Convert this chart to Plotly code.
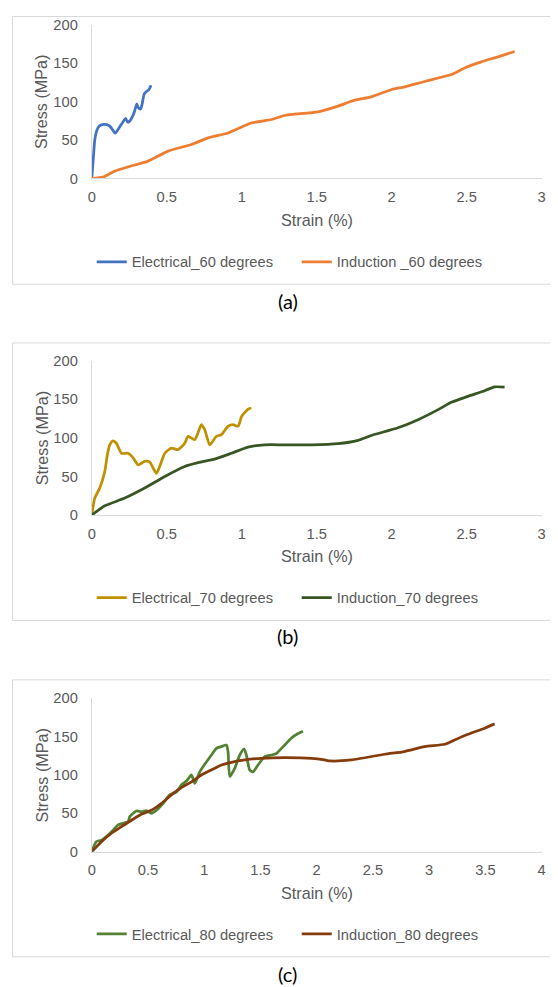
import plotly.graph_objects as go

# ---------------- data ----------------
# Panel (a)
elec60_strain = [0, 0.01, 0.02, 0.035, 0.05, 0.07, 0.1, 0.12, 0.14, 0.155, 0.17, 0.19, 0.21, 0.225,
                 0.24, 0.255, 0.27, 0.285, 0.3, 0.31, 0.325, 0.335, 0.35, 0.365, 0.38, 0.395]
elec60_stress = [0, 25, 50, 63, 68, 70, 70, 68, 63, 59, 62, 68, 74, 78,
                 73, 75, 80, 87, 97, 92, 90, 96, 110, 113, 115, 121]
ind60_strain = [0, 0.075, 0.153, 0.242, 0.375, 0.509, 0.664, 0.775, 0.909, 1.064, 1.198, 1.286,
                1.509, 1.642, 1.753, 1.864, 2.0, 2.087, 2.22, 2.398, 2.487, 2.598, 2.709, 2.82]
ind60_stress = [0, 1.7, 9.5, 15, 22.5, 35.5, 44, 52.7, 59, 72, 76.6, 81.8,
                86.5, 94, 101.7, 106, 115.6, 119, 126, 135, 143.6, 151.5, 158, 165]

# Panel (b)
elec70_strain = [0, 0.02, 0.053, 0.087, 0.104, 0.12, 0.142, 0.164, 0.198, 0.242, 0.276, 0.309,
                 0.353, 0.387, 0.409, 0.431, 0.453, 0.487, 0.531, 0.575, 0.62, 0.642, 0.687,
                 0.731, 0.753, 0.787, 0.831, 0.864, 0.909, 0.942, 0.976, 1.0, 1.042, 1.064]
elec70_stress = [0, 22, 35, 56.6, 78, 91, 96, 93, 80, 80, 74, 65,
                 69.5, 68.7, 61, 54, 63, 80, 86.8, 84.7, 93, 102, 97.7,
                 117, 110.6, 91, 102, 104, 115, 117, 115, 128, 137, 138.6]
ind70_strain = [0, 0.087, 0.22, 0.353, 0.487, 0.62, 0.709, 0.82, 0.931, 1.042, 1.153, 1.287,
                1.464, 1.642, 1.776, 1.864, 2.042, 2.176, 2.31, 2.398, 2.509, 2.62, 2.687, 2.753]
ind70_stress = [0, 12, 22, 35, 50, 63, 68, 72.5, 80, 88, 91, 91,
                91, 92.5, 96.8, 103, 113, 123.5, 136.5, 146, 153.7, 161, 166, 165.5]

# Panel (c)
elec80_strain = [0, 0.04, 0.086, 0.145, 0.19, 0.234, 0.278, 0.323, 0.338, 0.397, 0.44, 0.486,
                 0.53, 0.575, 0.634, 0.693, 0.753, 0.797, 0.842, 0.886, 0.916, 0.96, 1.0, 1.064,
                 1.108, 1.153, 1.197, 1.212, 1.227, 1.271, 1.316, 1.354, 1.375, 1.404, 1.434,
                 1.478, 1.538, 1.597, 1.641, 1.656, 1.716, 1.775, 1.834, 1.878]
elec80_stress = [0, 13, 15, 21.8, 28, 35, 37, 39, 45.7, 53, 52, 53.5,
                 50, 54, 63, 74, 78, 87, 92, 100, 89, 104, 113, 126,
                 134.8, 137, 139, 130, 98, 108.7, 126, 134, 126, 106.6, 104,
                 113, 124, 126, 128, 130, 139, 148, 154, 157]
ind80_strain = [0, 0.086, 0.175, 0.264, 0.353, 0.44, 0.53, 0.62, 0.708, 0.797, 0.886, 0.975,
                1.064, 1.153, 1.242, 1.36, 1.508, 1.716, 1.953, 2.07, 2.116, 2.308, 2.604,
                2.78, 2.96, 3.138, 3.227, 3.345, 3.493, 3.582]
ind80_stress = [0, 13, 24, 32.6, 41, 48.7, 54, 63, 74, 83.5, 91, 100,
                106.6, 113, 116.5, 119.6, 121.7, 122.6, 121.7, 119.6, 118.3, 119.6, 127,
                130.5, 137, 140, 145.7, 153, 161, 166.6]

x_ticks_ac = [0, 0.5, 1, 1.5, 2, 2.5, 3]
x_ticks_c = [0, 0.5, 1, 1.5, 2, 2.5, 3, 3.5, 4]
y_ticks = [0, 50, 100, 150, 200]

names = ["Electrical_60 degrees", "Induction _60 degrees",
         "Electrical_70 degrees", "Induction_70 degrees",
         "Electrical_80 degrees", "Induction_80 degrees"]
panel_labels = ["(a)", "(b)", "(c)"]
x_title = "Strain (%)"
y_title = "Stress (MPa)"

# ---------------- styling / layout ----------------
W, H = 558, 987
# mapping from screenshot position to figure pixels (measured)
OX, SX = 11.5, 0.986
OY, SY = 15.0, 0.983

def fxp(r):
    return (r - OX) / SX

def fyp(r):
    return (r - OY) / SY

def px(r):               # screenshot x -> paper x
    return fxp(r) / W

def py(r):               # screenshot y -> paper y
    return 1 - fyp(r) / H

TXT = "#595959"
AX = "#D9D9D9"
LW = 2.75
FONT = "Liberation Sans"

x_dom = [px(91.3), px(541.3)]
y_doms = [[py(177.3), py(23.5)], [py(513.7), py(359.3)], [py(850), py(696.7)]]
legend_y = [261, 596.7, 932.7]
xtitle_y = [219, 555, 891]
label_y = [300, 635, 972]
box_y = [(15.5, 283), (341.7, 619), (678.3, 955)]

fig = go.Figure()

series = [
    (elec60_strain, elec60_stress, names[0], "#4472C4", 1),
    (ind60_strain, ind60_stress, names[1], "#ED7D31", 1),
    (elec70_strain, elec70_stress, names[2], "#BF9000", 2),
    (ind70_strain, ind70_stress, names[3], "#375623", 2),
    (elec80_strain, elec80_stress, names[4], "#548235", 3),
    (ind80_strain, ind80_stress, names[5], "#843C0C", 3),
]
for xs, ys, nm, col, p in series:
    sfx = "" if p == 1 else str(p)
    fig.add_trace(go.Scatter(
        x=xs, y=ys, name=nm, mode="lines",
        line=dict(color=col, width=LW, shape="spline", smoothing=0.6),
        xaxis="x" + sfx, yaxis="y" + sfx, legend="legend" + sfx,
    ))

layout = dict(
    width=W, height=H,
    margin=dict(l=0, r=0, t=0, b=0),
    paper_bgcolor="white", plot_bgcolor="white",
    font=dict(family=FONT, color=TXT, size=14.7),
    showlegend=True,
)

for i in range(3):
    sfx = "" if i == 0 else str(i + 1)
    xr = [0, 4] if i == 2 else [0, 3]
    xt = x_ticks_c if i == 2 else x_ticks_ac
    layout["xaxis" + sfx] = dict(
        domain=x_dom, range=xr, tickvals=xt, ticktext=[f"{v:g}" for v in xt],
        showgrid=False, zeroline=False, showline=True, linecolor=AX, linewidth=1,
        ticks="", ticklabelstandoff=5, anchor="y" + sfx,
        tickfont=dict(size=14.7, color=TXT, family=FONT), fixedrange=True,
    )
    layout["yaxis" + sfx] = dict(
        domain=y_doms[i], range=[0, 200], tickvals=y_ticks,
        showgrid=False, zeroline=False, showline=True, linecolor=AX, linewidth=1,
        ticks="", ticklabelstandoff=10, anchor="x" + sfx,
        tickfont=dict(size=14.7, color=TXT, family=FONT), fixedrange=True,
    )
    layout["legend" + sfx] = dict(
        orientation="h", x=80.9 / W, xanchor="left", y=py(legend_y[i]), yanchor="middle",
        entrywidth=160, entrywidthmode="pixels", itemwidth=30,
        font=dict(size=14.7, color=TXT, family=FONT), bgcolor="rgba(0,0,0,0)",
        borderwidth=0,
    )

fig.update_layout(**layout)

shapes = []
annotations = []
for i in range(3):
    y0, y1 = box_y[i]
    shapes.append(dict(type="rect", xref="paper", yref="paper",
                       x0=0.5 / W, x1=px(600), y0=py(y1), y1=py(y0),
                       line=dict(color=AX, width=1), fillcolor="rgba(0,0,0,0)", layer="below"))
    annotations.append(dict(text=x_title, xref="paper", yref="paper",
                            x=px(316.5), y=py(xtitle_y[i]), xanchor="center", yanchor="middle",
                            showarrow=False, font=dict(size=16.2, color=TXT, family=FONT)))
    yc = (y_doms[i][0] + y_doms[i][1]) / 2
    annotations.append(dict(text=y_title, xref="paper", yref="paper", textangle=-90,
                            x=px(41), y=yc, xanchor="center", yanchor="middle",
                            showarrow=False, font=dict(size=16.2, color=TXT, family=FONT)))
    annotations.append(dict(text=panel_labels[i], xref="paper", yref="paper",
                            x=px(287.5), y=py(label_y[i]), xanchor="center", yanchor="middle",
                            showarrow=False, font=dict(size=20, color="black", family="Lato")))

fig.update_layout(shapes=shapes, annotations=annotations)
fig.write_html("out.html")
